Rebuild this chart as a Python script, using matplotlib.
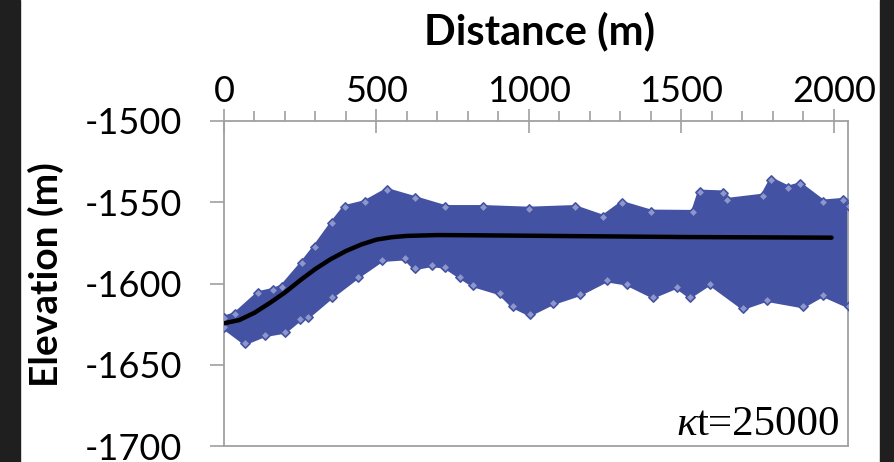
import numpy as np
import matplotlib
matplotlib.use("Agg")
import matplotlib.pyplot as plt
from matplotlib.patches import Rectangle
from matplotlib.ticker import FixedLocator

plt.rcParams['axes.unicode_minus'] = False
plt.rcParams['font.family'] = ['Lato', 'DejaVu Sans']

# ---- data ----
curve_x = [0, 50, 100, 150, 200, 250, 300, 350, 400, 450, 500, 550, 600, 700, 800, 1000, 1250, 1500, 1750, 1992]
curve_y = [-1624.5, -1622.5, -1618, -1612, -1605.5, -1598, -1591, -1585, -1580, -1576, -1573, -1571.5, -1570.7, -1570.2, -1570.3, -1570.6, -1571, -1571.4, -1571.6, -1571.8]

upper_x = [0, 36, 113, 160, 190, 256, 298, 354, 396, 462, 534, 626, 725, 850, 1000, 1150, 1243, 1305, 1400, 1538, 1560, 1636, 1650, 1766, 1795, 1850, 1889, 1964, 2030, 2048]
upper_y = [-1621, -1619, -1606, -1604, -1602, -1587.5, -1577.5, -1563, -1553, -1550, -1542.5, -1547.5, -1553, -1553, -1554, -1553, -1559, -1550.5, -1555.8, -1556, -1543.5, -1544, -1548.6, -1546, -1536, -1541, -1539, -1549.6, -1548.6, -1552]

lower_x = [0, 69, 134, 200, 249, 276, 354, 439, 518, 594, 626, 682, 725, 774, 817, 905, 948, 1003, 1079, 1167, 1255, 1320, 1407, 1484, 1528, 1593, 1702, 1779, 1898, 1964, 2048]
lower_y = [-1627, -1636.7, -1631.7, -1629.6, -1622, -1620.4, -1608, -1595.8, -1585.5, -1584.5, -1590.5, -1588.6, -1589.7, -1595.8, -1601, -1606, -1614, -1619, -1612, -1606.5, -1598, -1600, -1608, -1602, -1608, -1600, -1615, -1610, -1614, -1607, -1614]

x_ticks = [0, 500, 1000, 1500, 2000]
x_minor = [100, 200, 300, 400, 600, 700, 800, 900, 1100, 1200, 1300, 1400, 1600, 1700, 1800, 1900]
y_ticks = [-1500, -1550, -1600, -1650, -1700]
y_ticklabels = ['-1500', '-1550', '-1600', '-1650', '-1700']
annotation = 't=25000'

# ---- figure ----
W, H = 894, 462
fig = plt.figure(figsize=(W / 100, H / 100), dpi=100)
fig.patch.set_facecolor('white')
ax = fig.add_axes([224 / W, 1 - 446 / H, (848 - 224) / W, (446 - 121) / H])

blue = '#4352A2'
px = np.r_[upper_x, lower_x[::-1]]
py = np.r_[upper_y, lower_y[::-1]]
ax.fill(px, py, color=blue, lw=3, ec=blue, zorder=2)
ax.scatter(upper_x + lower_x, upper_y + lower_y, marker='D', s=22,
           facecolor='#8d97cc', edgecolor=blue, linewidths=1.2, zorder=3)
ax.plot(curve_x, curve_y, color='black', lw=3.2, solid_capstyle='round', zorder=4)

ax.set_xlim(0, 2046)
ax.set_ylim(-1700, -1500)

ax.xaxis.tick_top()
ax.xaxis.set_major_locator(FixedLocator(x_ticks))
ax.xaxis.set_minor_locator(FixedLocator(x_minor))
ax.set_yticks(y_ticks)
ax.set_yticklabels(y_ticklabels)

spine_c = '#a0a0a0'
for s in ax.spines.values():
    s.set_color(spine_c)
    s.set_linewidth(1.3)

ax.tick_params(axis='x', which='major', direction='inout', length=17, width=1.2,
               color=spine_c, labelsize=26, pad=1)
ax.tick_params(axis='x', which='minor', direction='out', length=7.5, width=1.2,
               color=spine_c)
ax.tick_params(axis='y', which='major', direction='out', length=10, width=1.2,
               color=spine_c, labelsize=26, pad=20)

fig.text(540 / W, 1 - 31 / H, 'Distance (m)', fontsize=30, fontweight='bold',
         ha='center', va='center')
fig.text(46 / W, 1 - 275 / H, 'Elevation (m)', rotation=90, fontsize=28,
         fontweight='bold', ha='center', va='center')

t2 = ax.text(0.988, 0.035, annotation, transform=ax.transAxes, ha='right',
             va='baseline', fontsize=31, family='Liberation Serif')
ax.annotate('κ', xy=(0, 0), xycoords=t2, ha='right', va='bottom', fontsize=31,
            family='Liberation Serif', style='italic')

# dark side strips of the screenshot
fig.patches.append(Rectangle((0, 0), 20 / W, 1, transform=fig.transFigure,
                             color='#1f1f1f', zorder=0))
fig.patches.append(Rectangle((880 / W, 0), 14 / W, 1, transform=fig.transFigure,
                             color='#1f1f1f', zorder=0))

fig.savefig('out.png', dpi=100)
